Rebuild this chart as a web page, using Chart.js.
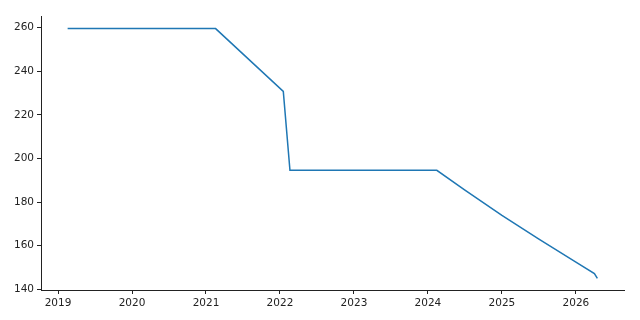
<!DOCTYPE html>
<html>
<head>
<meta charset="utf-8">
<script src="https://cdn.jsdelivr.net/npm/chart.js@4.4.1/dist/chart.umd.min.js"></script>
<style>
  html, body { margin: 0; padding: 0; background: #fff; }
  #wrap { width: 640px; height: 320px; }
</style>
</head>
<body>
<div id="wrap"><canvas id="chart" width="640" height="320"></canvas></div>
<script>
// Dates as decimal years
const years = [2019.13, 2021.13, 2022.045, 2022.135, 2024.12, 2024.5, 2025.0, 2025.5, 2026.0, 2026.25, 2026.29];
const values = [259.6, 259.6, 230.8, 194.6, 194.6, 185.5, 173.9, 163.0, 152.5, 147.2, 145.0];

const xTicks = [2019, 2020, 2021, 2022, 2023, 2024, 2025, 2026];
const yTicks = [140, 160, 180, 200, 220, 240, 260];

const points = years.map((x, i) => ({ x: x, y: values[i] }));

const tickFont = { family: 'DejaVu Sans', size: 10.5 };
const inkColor = '#222';

new Chart(document.getElementById('chart'), {
  type: 'line',
  data: {
    datasets: [{
      data: points,
      borderColor: '#1f77b4',
      borderWidth: 1.5,
      pointRadius: 0,
      tension: 0,
      fill: false
    }]
  },
  options: {
    responsive: false,
    animation: false,
    layout: { padding: { top: 16, right: 16, left: 0, bottom: 0 } },
    plugins: {
      legend: { display: false },
      tooltip: { enabled: false }
    },
    scales: {
      x: {
        type: 'linear',
        min: 2018.77,
        max: 2026.65,
        afterBuildTicks: (scale) => { scale.ticks = xTicks.map(v => ({ value: v })); },
        afterFit: (scale) => { scale.height = 30; },
        grid: { drawOnChartArea: false, drawTicks: true, tickLength: 4, color: inkColor },
        border: { display: true, color: inkColor, width: 1 },
        ticks: {
          font: tickFont,
          color: inkColor,
          padding: 3,
          maxRotation: 0,
          callback: (v) => String(v)
        }
      },
      y: {
        type: 'linear',
        min: 139.67,
        max: 265.37,
        afterBuildTicks: (scale) => { scale.ticks = yTicks.map(v => ({ value: v })); },
        afterFit: (scale) => { scale.width = 41; },
        grid: { drawOnChartArea: false, drawTicks: true, tickLength: 4, color: inkColor },
        border: { display: true, color: inkColor, width: 1 },
        ticks: {
          font: tickFont,
          color: inkColor,
          padding: 3,
          callback: (v) => String(v)
        }
      }
    }
  }
});
</script>
</body>
</html>
